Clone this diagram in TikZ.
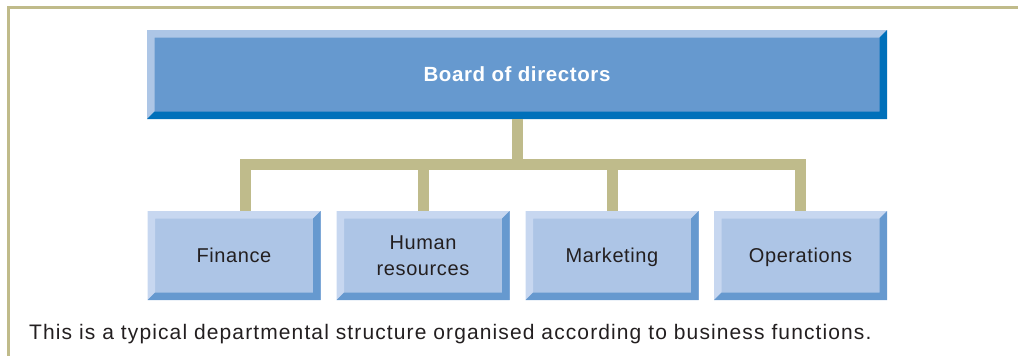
\documentclass[tikz,border=0pt]{standalone}
\usepackage{fontspec}
\setmainfont{Liberation Sans}
\usepackage{xcolor}
\usetikzlibrary{calc,positioning}
\definecolor{color_frame}{HTML}{c0bb8a}
\definecolor{color_link}{HTML}{bfbb8b}
\definecolor{color_board_fill}{HTML}{6699cf}
\definecolor{color_board_light}{HTML}{adc6e6}
\definecolor{color_board_dark}{HTML}{0070ba}
\definecolor{color_dept_fill}{HTML}{adc5e6}
\definecolor{color_dept_light}{HTML}{c7d7f0}
\definecolor{color_dept_dark}{HTML}{6699cf}
\definecolor{color_text}{HTML}{231f20}

\begin{document}
\begin{tikzpicture}[x=1pt,y=-1pt,
		box/.style={inner sep=0,outer sep=0,align=center,minimum height=89pt},
		board/.style={box,fill=color_board_fill,minimum width=740pt,text=white,
			font=\fontsize{20.5}{22}\selectfont\bfseries\addfontfeature{LetterSpace=3}},
		dept/.style={box,fill=color_dept_fill,minimum width=173pt,text=color_text,
			font=\fontsize{20}{26}\selectfont\addfontfeature{LetterSpace=3}},
		oneline/.style={text height=14.3pt,text depth=0pt},
		link/.style={line width=11pt,color_link,miter limit=10}]
				\useasboundingbox (0, 0) rectangle (1018, 356);
				% Frame
				\draw[line width=3pt,color_frame]
					(8.5, 356) -- (8.5, 7) -- (1018, 7);

				% Boxes
				\node[board,oneline] (BD) at (517, 74.5) {Board of directors};
				\node[dept,oneline] (FI) at (234, 255.5) {Finance};
				\node[dept] (HR) at (423, 255.5) {Human\\resources};
				\node[dept,oneline] (MK) at (612, 255.5) {Marketing};
				\node[dept,oneline] (OP) at (800.5, 255.5) {Operations};

				% Bevels
				\foreach \n/\b/\cl/\cd in {BD/7.5/color_board_light/color_board_dark,
						FI/7.5/color_dept_light/color_dept_dark,HR/7.5/color_dept_light/color_dept_dark,
						MK/7.5/color_dept_light/color_dept_dark,OP/7.5/color_dept_light/color_dept_dark} {
					\fill[\cl]
						(\n.south west) --
						(\n.north west) --
						(\n.north east) --
						($(\n.north east)+(-\b,\b)$) --
						($(\n.north west)+(\b,\b)$) --
						($(\n.south west)+(\b,-\b)$) --
						cycle;
					\fill[\cd]
						(\n.south west) --
						(\n.south east) --
						(\n.north east) --
						($(\n.north east)+(-\b,\b)$) --
						($(\n.south east)+(-\b,-\b)$) --
						($(\n.south west)+(\b,-\b)$) --
						cycle;
				}

				% Connectors
				\coordinate (BAR) at (517, 164.5);
				\draw[link] (BD.south) -- (BAR);
				\draw[link] ($(FI.north)+(11,0)$) |- (BAR) -| (OP.north);
				\draw[link] (BAR -| HR.north) -- (HR.north);
				\draw[link] (BAR -| MK.north) -- (MK.north);

				% Caption
				\node[anchor=base west,inner sep=0,text=color_text,
					font=\fontsize{21}{24}\selectfont\addfontfeature{LetterSpace=5.3}] (CAP) at (29, 339)
					{This is a typical departmental structure organised according to business functions.};
			\end{tikzpicture}
\end{document}
